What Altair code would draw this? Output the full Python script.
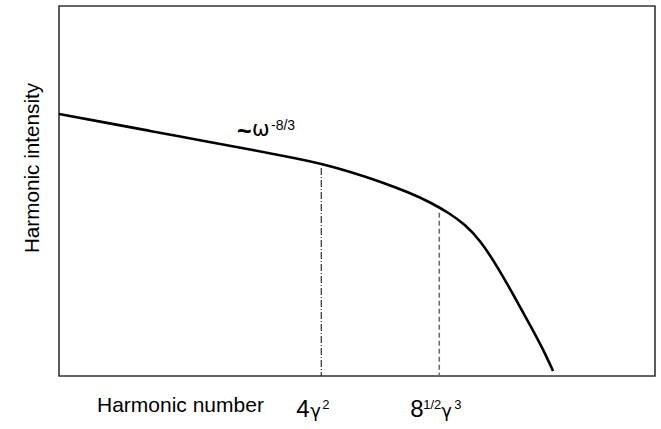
import altair as alt
import pandas as pd

# Synchrotron-type harmonic spectrum (arbitrary linear units on both axes)
harmonic = [0.000, 0.688, 1.527, 2.366, 3.205, 4.044, 4.396, 4.883, 5.386, 5.889,
            6.225, 6.560, 6.812, 7.064, 7.349, 7.617, 7.903, 8.121, 8.289]
intensity = [7.081, 6.876, 6.624, 6.373, 6.122, 5.865, 5.735, 5.524, 5.259, 4.949,
             4.700, 4.389, 4.095, 3.676, 2.973, 2.216, 1.378, 0.730, 0.135]

# Characteristic harmonics marked by vertical guide lines
guide_x = [4.40, 6.38]
guide_top = [5.62, 4.41]

# Axis annotations built from pieces: (text, superscript?)
guide_labels = [
    [("4", False), ("γ", False), ("2", True)],
    [("8", False), ("1/2", True), ("γ", False), ("3", True)],
]
x_title = "Harmonic number"
y_title = "Harmonic intensity"
slope_label = [("~", False), ("ω", False), ("-8/3", True)]

W, H = 596, 370
FONT = "Liberation Sans"
GREEK = "DejaVu Sans"

xs = alt.Scale(domain=[0, 10], nice=False, zero=False)
ys = alt.Scale(domain=[0, 10], nice=False, zero=False)

curve_df = pd.DataFrame({"h": harmonic, "i": intensity})
curve = alt.Chart(curve_df).mark_line(
    color="black", strokeWidth=2.6, interpolate="basis"
).encode(
    x=alt.X("h:Q", scale=xs, axis=None),
    y=alt.Y("i:Q", scale=ys, axis=None),
)

guide_styles = [
    dict(color="#1e1e1e", strokeWidth=1.1, strokeDash=[7, 2, 1, 2]),
    dict(color="#6e6e6e", strokeWidth=1.6, strokeDash=[5, 3]),
]
layers = [curve]
for gx, gt, style in zip(guide_x, guide_top, guide_styles):
    gdf = pd.DataFrame({"h": [gx], "top": [gt], "bottom": [0.0]})
    layers.append(
        alt.Chart(gdf).mark_rule(**style).encode(
            x=alt.X("h:Q", scale=xs, axis=None),
            y=alt.Y("top:Q", scale=ys, axis=None),
            y2="bottom:Q",
        )
    )

# layout of the composed tick labels: left offsets from the guide line in px
piece_dx = [[-25, -11, 1], [-29, -16, 2, 15]]
BASE_Y = 411  # alphabetic baseline below the frame
for gx, pieces, dxs in zip(guide_x, guide_labels, piece_dx):
    for (txt, sup), dx in zip(pieces, dxs):
        if sup:
            size, y, font = 13, BASE_Y - 8, FONT
        elif txt == "γ":
            size, y, font = 18, BASE_Y, GREEK
        else:
            size, y, font = 24, BASE_Y, FONT
        tdf = pd.DataFrame({"h": [gx], "t": [txt]})
        layers.append(
            alt.Chart(tdf).mark_text(
                align="left", baseline="alphabetic", dx=dx,
                fontSize=size, font=font, color="black",
            ).encode(
                x=alt.X("h:Q", scale=xs, axis=None),
                y=alt.value(y),
                text="t:N",
            )
        )

# "~ω^-8/3" next to the power-law segment
slope_pos = [
    (178, 134, 25, "bold", FONT),
    (193, 130, 21, "normal", GREEK),
    (212, 124, 14, "normal", FONT),
]
for (txt, sup), (px, py, size, weight, font) in zip(slope_label, slope_pos):
    layers.append(
        alt.Chart(pd.DataFrame({"t": [txt]})).mark_text(
            align="left", baseline="alphabetic", fontSize=size,
            fontWeight=weight, font=font, color="black",
        ).encode(x=alt.value(px), y=alt.value(py), text="t:N")
    )

# axis titles
layers.append(
    alt.Chart(pd.DataFrame({"t": [x_title]})).mark_text(
        align="left", baseline="alphabetic", fontSize=21, font=FONT, color="black",
    ).encode(x=alt.value(38), y=alt.value(406), text="t:N")
)
layers.append(
    alt.Chart(pd.DataFrame({"t": [y_title]})).mark_text(
        align="center", baseline="alphabetic", angle=270, fontSize=20.7,
        font=FONT, color="black",
    ).encode(x=alt.value(-20), y=alt.value(162), text="t:N")
)

chart = alt.layer(*layers).properties(
    width=W,
    height=H,
    padding={"left": 59, "top": 6, "right": 6, "bottom": 53},
    autosize=alt.AutoSizeParams(type="none"),
    background="white",
).configure_view(stroke="#333333", strokeWidth=1.6)

chart.save("out.html", embed_options={"renderer": "svg", "actions": False})
